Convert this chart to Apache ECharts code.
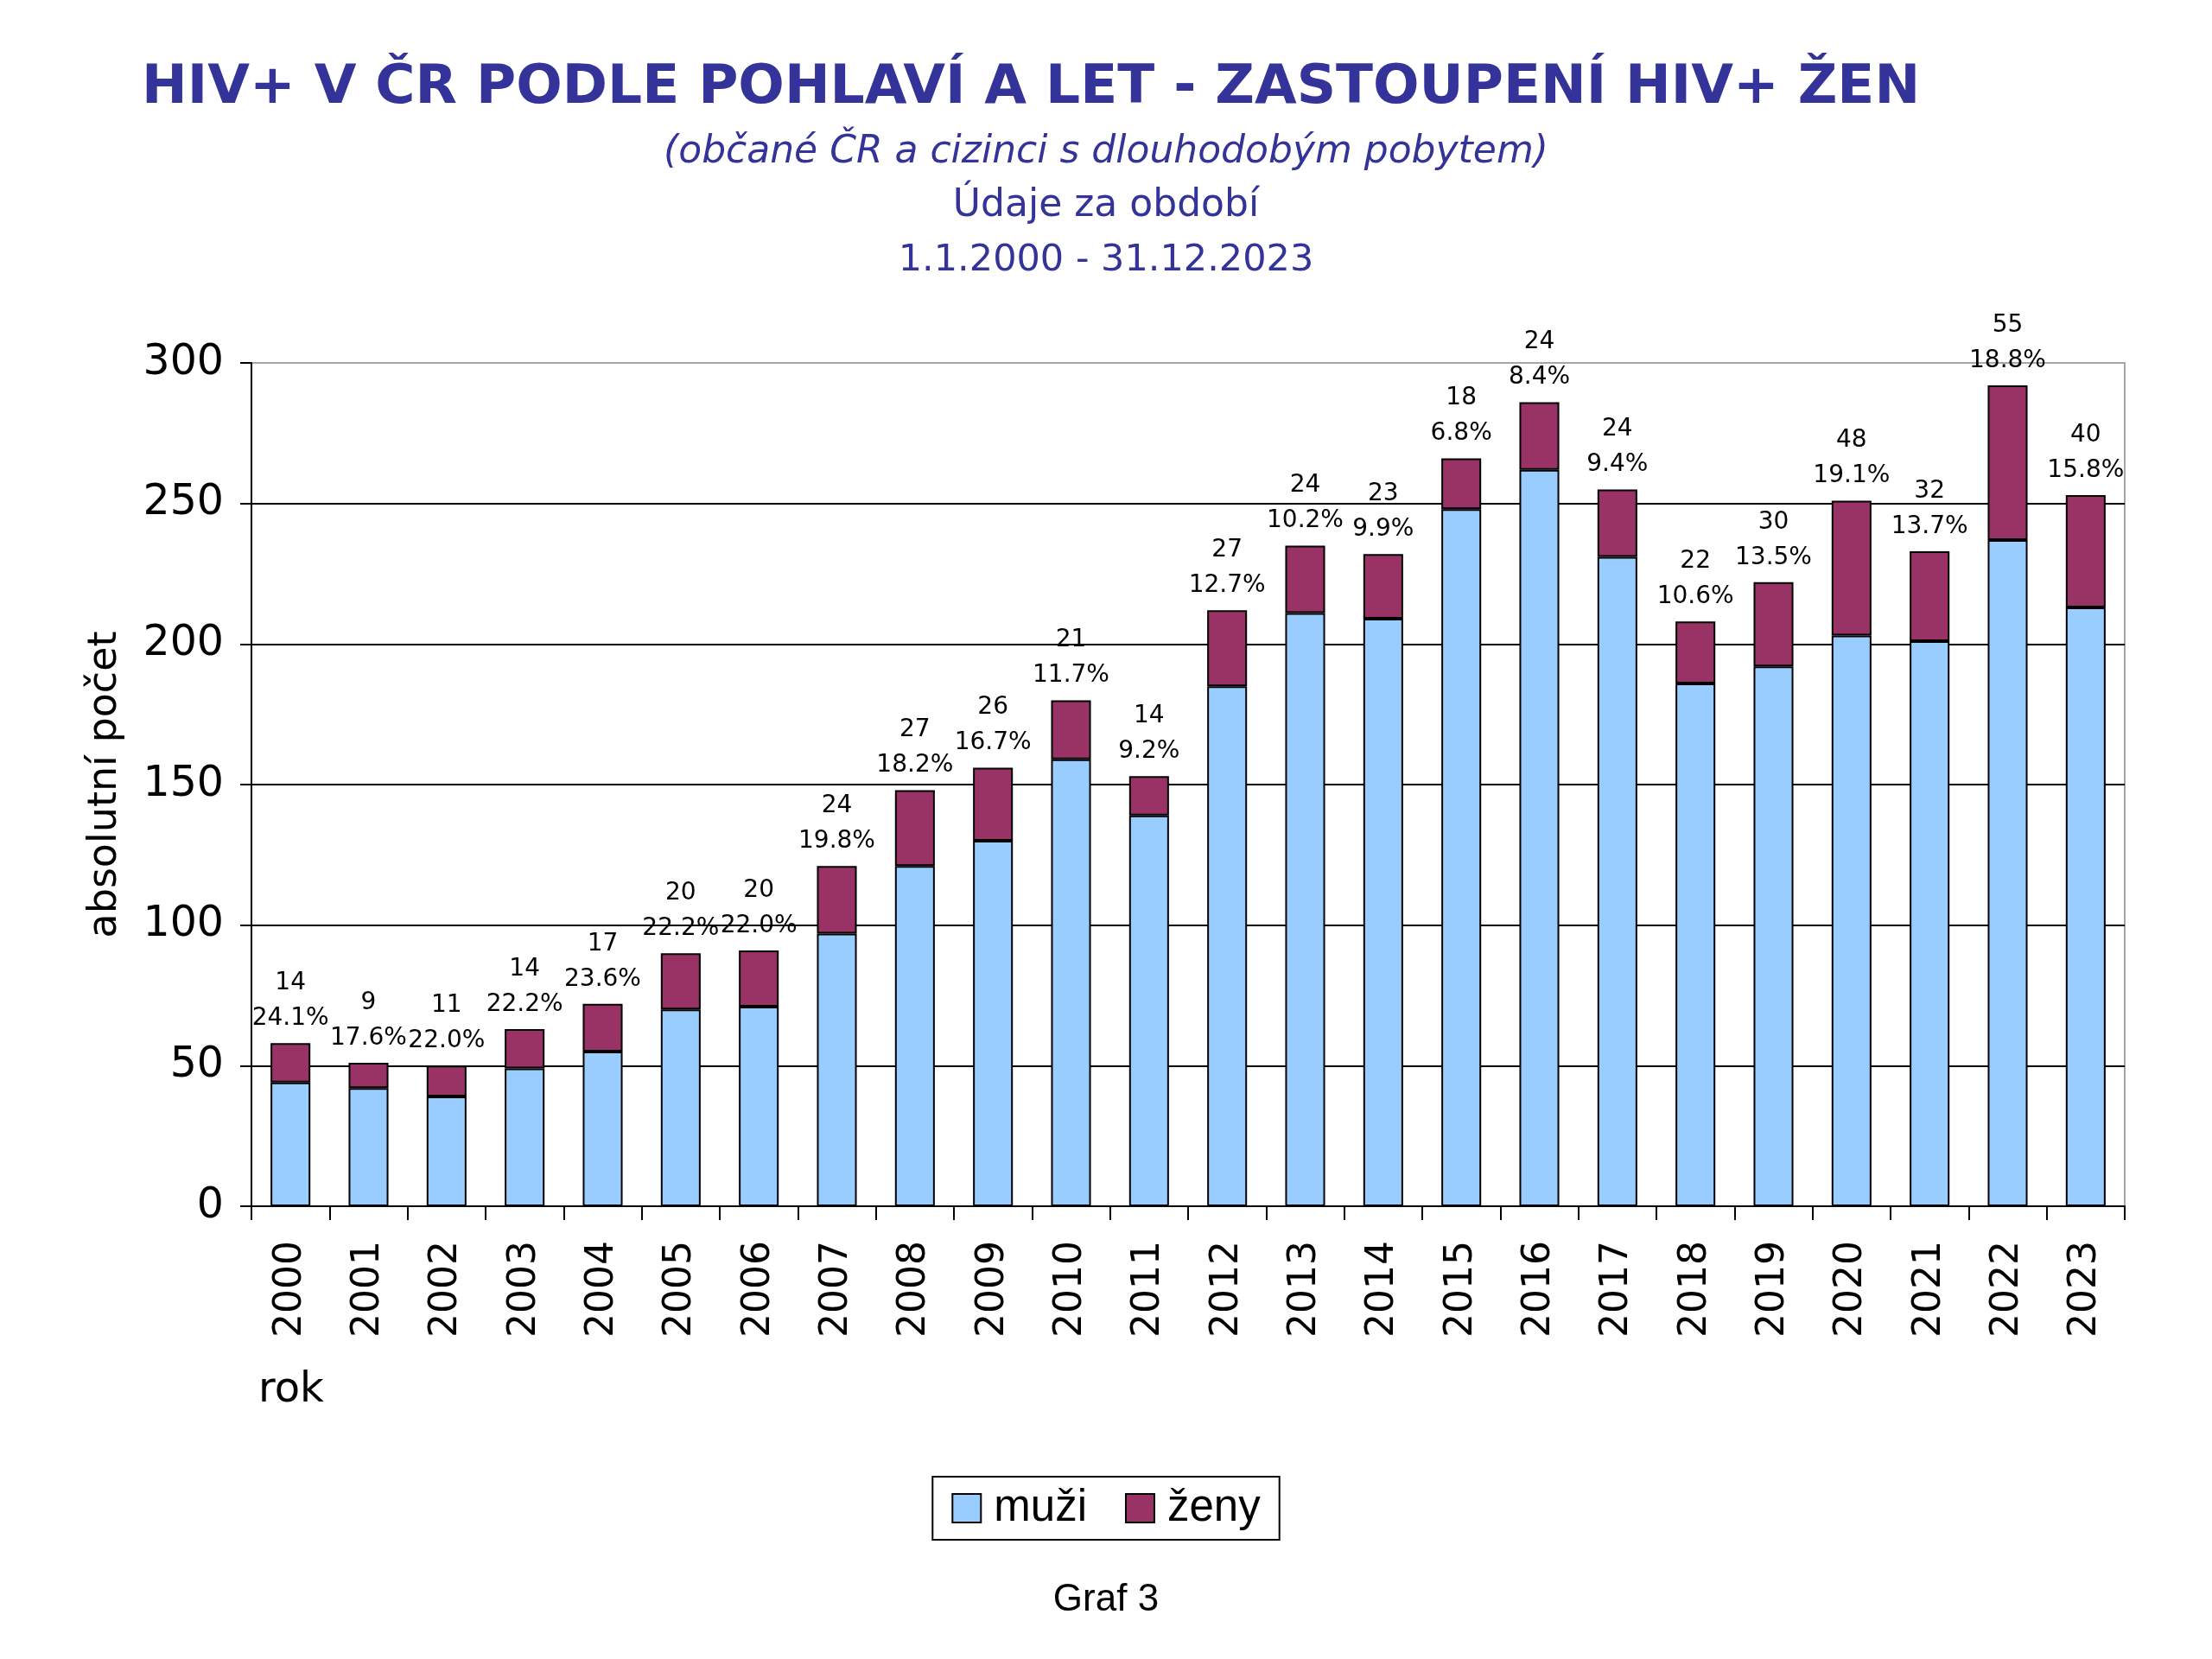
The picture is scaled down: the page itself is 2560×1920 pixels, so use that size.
<!DOCTYPE html>
<html>
<head>
<meta charset="utf-8">
<script src="https://cdn.jsdelivr.net/npm/echarts@6/dist/echarts.min.js"></script>
<style>html,body{margin:0;padding:0;background:#fff}#c{width:2560px;height:1920px}</style>
</head>
<body>
<div id="c"></div>
<script>
const years = ['2000','2001','2002','2003','2004','2005','2006','2007','2008','2009','2010','2011','2012','2013','2014','2015','2016','2017','2018','2019','2020','2021','2022','2023'];
const muzi = [44,42,39,49,55,70,71,97,121,130,159,139,185,211,209,248,262,231,186,192,203,201,237,213];
const zeny = [14,9,11,14,17,20,20,24,27,26,21,14,27,24,23,18,24,24,22,30,48,32,55,40];
const podilZen = ['24.1%','17.6%','22.0%','22.2%','23.6%','22.2%','22.0%','19.8%','18.2%','16.7%','11.7%','9.2%','12.7%','10.2%','9.9%','6.8%','8.4%','9.4%','10.6%','13.5%','19.1%','13.7%','18.8%','15.8%'];
const yTicks = [0,50,100,150,200,250,300];

const chart = echarts.init(document.getElementById('c'), null, {renderer:'canvas'});
const blue = '#333399';
chart.setOption({
  animation:false,
  backgroundColor:'#ffffff',
  title:[
    {text:'HIV+ V ČR PODLE POHLAVÍ A LET - ZASTOUPENÍ HIV+ ŽEN', left:159, top:66,
     textStyle:{fontFamily:'DejaVu Sans', fontWeight:'bold', fontSize:63, color:blue}},
    {text:'(občané ČR a cizinci s dlouhodobým pobytem)', left:'center', top:150,
     textStyle:{fontFamily:'DejaVu Sans', fontStyle:'italic', fontWeight:'normal', fontSize:44, color:blue}},
    {text:'Údaje za období', left:'center', top:212,
     textStyle:{fontFamily:'DejaVu Sans', fontWeight:'normal', fontSize:44, color:blue}},
    {text:'1.1.2000 - 31.12.2023', left:'center', top:275,
     textStyle:{fontFamily:'DejaVu Sans', fontWeight:'normal', fontSize:43, color:blue}}
  ],
  grid:{left:291, right:101, top:420, bottom:524, show:true, borderColor:'#a6a6a6', borderWidth:2, backgroundColor:'transparent'},
  legend:{
    data:['muži','ženy'], left:'center', top:1709, icon:'rect',
    itemWidth:33, itemHeight:33, itemGap:44,
    padding:[11,22,11,22],
    borderColor:'#000', borderWidth:2,
    textStyle:{fontFamily:'Liberation Sans', fontSize:51, color:'#000', padding:[0,0,0,10]}
  },
  xAxis:{
    type:'category', data:years,
    axisLine:{lineStyle:{color:'#000', width:2}},
    axisTick:{show:true, length:16, lineStyle:{color:'#000', width:2}},
    axisLabel:{rotate:90, margin:40, fontFamily:'DejaVu Sans', fontSize:44, color:'#000'}
  },
  yAxis:{
    type:'value', min:0, max:300, interval:50,
    name:'absolutní počet', nameLocation:'middle', nameGap:146, nameRotate:90,
    nameTextStyle:{fontFamily:'DejaVu Sans', fontSize:46, color:'#000'},
    axisLine:{show:true, lineStyle:{color:'#000', width:2}},
    axisTick:{show:true, length:13, lineStyle:{color:'#000', width:2}},
    axisLabel:{margin:32, fontFamily:'DejaVu Sans', fontSize:49, color:'#000',
      formatter:v=>yTicks.includes(v)?String(v):''},
    splitLine:{show:true, showMaxLine:false, lineStyle:{color:'#000', width:2}}
  },
  series:[
    {name:'muži', type:'bar', stack:'c', data:muzi, barWidth:'51%',
     itemStyle:{color:'#99CCFF', borderColor:'#000', borderWidth:2}},
    {name:'ženy', type:'bar', stack:'c', data:zeny, barWidth:'51%',
     itemStyle:{color:'#993366', borderColor:'#000', borderWidth:2},
     label:{show:true, position:'top', distance:8, fontFamily:'DejaVu Sans', fontSize:28, lineHeight:41, color:'#000',
       formatter:p=>zeny[p.dataIndex]+'\n'+podilZen[p.dataIndex]}}
  ],
  graphic:[
    {type:'text', left:299, top:1586, style:{text:'rok', font:'48px "DejaVu Sans"', fill:'#000'}},
    {type:'text', left:'center', top:1830, style:{text:'Graf 3', font:'44px "Liberation Sans"', fill:'#000'}}
  ]
});
</script>
</body>
</html>
